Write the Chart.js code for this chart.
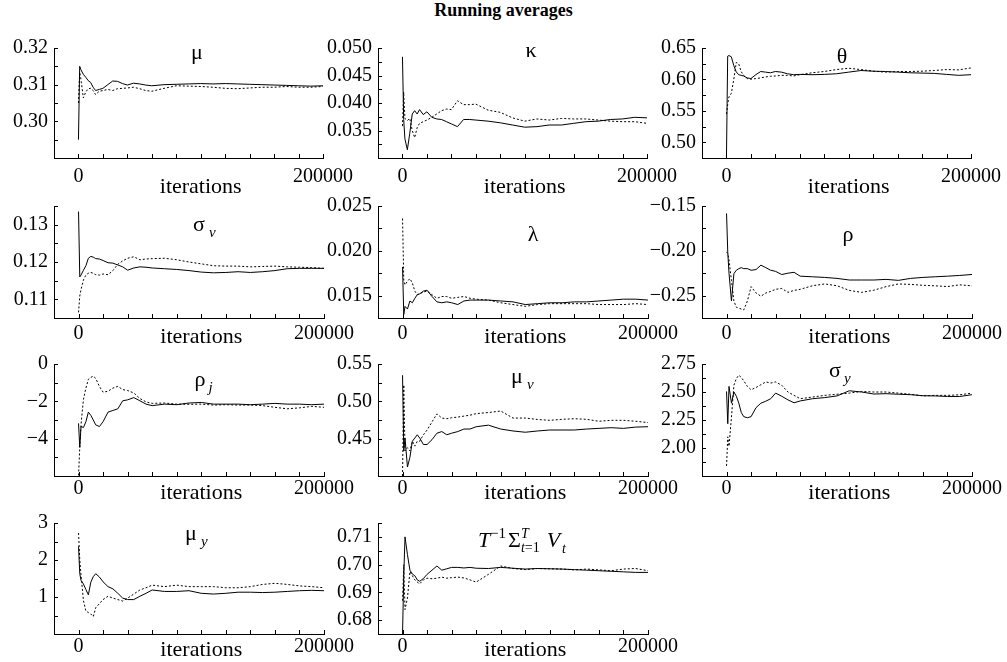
<!DOCTYPE html>
<html>
<head>
<meta charset="utf-8">
<script src="https://cdn.jsdelivr.net/npm/chart.js@4.4.1/dist/chart.umd.min.js"></script>
<style>
  body { margin: 0; background: #fff; width: 1007px; height: 662px; position: relative; overflow: hidden; font-family: "Liberation Serif", "Times New Roman", serif; }
  #title { position: absolute; left: 0; top: 0; width: 1007px; text-align: center; font-weight: bold; font-size: 18px; }
  .panel { position: absolute; }
</style>
</head>
<body>
<div id="title">Running averages</div>
<script>
// iteration grid shared by every panel
const iterations = [0, 1000, 2000, 4000, 6000, 8000, 10000, 12000, 14000, 17000, 20000, 24000, 28000, 32000, 36000, 40000, 45000, 50000, 55000, 60000, 70000, 80000, 90000, 100000, 110000, 120000, 130000, 140000, 150000, 160000, 170000, 180000, 190000, 200000];
const xTicks = [0, 20000, 40000, 60000, 80000, 100000, 120000, 140000, 160000, 180000, 200000];
const xLabels = { 0: '0', 200000: '200000' };

// running averages, solid chain / dashed chain
const muSolid = [0.2950, 0.3150, 0.3141, 0.3128, 0.3120, 0.3111, 0.3106, 0.3093, 0.3084, 0.3087, 0.3090, 0.3100, 0.3110, 0.3109, 0.3103, 0.3099, 0.3104, 0.3102, 0.3099, 0.3097, 0.3100, 0.3101, 0.3102, 0.3103, 0.3102, 0.3103, 0.3102, 0.3101, 0.3100, 0.3099, 0.3098, 0.3097, 0.3096, 0.3097];
const muDashed = [0.3050, 0.3134, 0.3115, 0.3064, 0.3080, 0.3089, 0.3090, 0.3084, 0.3073, 0.3082, 0.3084, 0.3087, 0.3084, 0.3089, 0.3090, 0.3091, 0.3093, 0.3089, 0.3084, 0.3082, 0.3090, 0.3097, 0.3096, 0.3095, 0.3093, 0.3090, 0.3089, 0.3091, 0.3093, 0.3093, 0.3095, 0.3093, 0.3093, 0.3095];

const kappaSolid = [0.0484, 0.0370, 0.0335, 0.0315, 0.0345, 0.0380, 0.0386, 0.0380, 0.0388, 0.0379, 0.0384, 0.0374, 0.0371, 0.0370, 0.0366, 0.0362, 0.0357, 0.0370, 0.0370, 0.0369, 0.0367, 0.0364, 0.0360, 0.0356, 0.0357, 0.0360, 0.0360, 0.0363, 0.0366, 0.0367, 0.0370, 0.0371, 0.0374, 0.0373];
const kappaDashed = [0.0358, 0.0420, 0.0372, 0.0368, 0.0372, 0.0350, 0.0337, 0.0355, 0.0363, 0.0366, 0.0369, 0.0374, 0.0380, 0.0386, 0.0389, 0.0388, 0.0404, 0.0397, 0.0397, 0.0398, 0.0387, 0.0383, 0.0373, 0.0367, 0.0371, 0.0369, 0.0372, 0.0371, 0.0371, 0.0369, 0.0367, 0.0366, 0.0366, 0.0363];

const thetaSolid = [0.476, 0.637, 0.638, 0.636, 0.622, 0.612, 0.6075, 0.6065, 0.6055, 0.6024, 0.6014, 0.6075, 0.6126, 0.6116, 0.6106, 0.6126, 0.6116, 0.609, 0.6075, 0.608, 0.6075, 0.608, 0.609, 0.6116, 0.6142, 0.6131, 0.6126, 0.6116, 0.6106, 0.6101, 0.6096, 0.608, 0.6065, 0.6075];
const thetaDashed = [0.545, 0.560, 0.572, 0.578, 0.600, 0.627, 0.625, 0.6126, 0.6065, 0.6014, 0.6004, 0.6014, 0.6024, 0.604, 0.605, 0.6055, 0.6065, 0.6065, 0.6055, 0.6075, 0.6106, 0.6126, 0.6157, 0.6178, 0.6157, 0.6131, 0.6116, 0.6126, 0.6126, 0.6131, 0.6142, 0.6157, 0.6152, 0.6183];

const sigmaVSolid = [0.1335, 0.1160, 0.1165, 0.1178, 0.1190, 0.1210, 0.1215, 0.1213, 0.1209, 0.1208, 0.1204, 0.1198, 0.1197, 0.1192, 0.1187, 0.1178, 0.1184, 0.1187, 0.1186, 0.1184, 0.1182, 0.1180, 0.1177, 0.1173, 0.1171, 0.1172, 0.1174, 0.1172, 0.1174, 0.1177, 0.1182, 0.1183, 0.1183, 0.1183];
const sigmaVDashed = [0.1065, 0.1109, 0.1126, 0.1152, 0.1165, 0.1170, 0.1172, 0.1170, 0.1166, 0.1165, 0.1168, 0.1166, 0.1177, 0.1194, 0.1203, 0.1210, 0.1214, 0.1206, 0.1208, 0.1209, 0.1210, 0.1206, 0.1200, 0.1195, 0.1190, 0.1189, 0.1189, 0.1187, 0.1188, 0.1189, 0.1187, 0.1186, 0.1185, 0.1183];

const lambdaSolid = [0.0182, 0.0129, 0.0138, 0.0135, 0.0144, 0.0142, 0.0147, 0.0151, 0.0152, 0.0155, 0.0156, 0.0149, 0.0143, 0.0142, 0.0143, 0.0142, 0.0140, 0.0144, 0.0145, 0.0145, 0.0145, 0.0144, 0.0143, 0.0140, 0.0141, 0.0142, 0.0142, 0.0143, 0.0143, 0.0144, 0.0145, 0.0146, 0.0146, 0.0145];
const lambdaDashed = [0.0236, 0.0167, 0.0162, 0.0166, 0.0169, 0.0164, 0.0155, 0.0151, 0.0152, 0.0154, 0.0155, 0.0151, 0.0147, 0.0149, 0.0149, 0.0147, 0.0148, 0.0149, 0.0147, 0.0146, 0.0145, 0.0142, 0.0140, 0.0138, 0.0140, 0.0141, 0.0141, 0.0141, 0.0141, 0.0140, 0.0140, 0.0140, 0.0141, 0.0140];

const rhoSolid = [-0.1583, -0.2018, -0.2250, -0.2560, -0.2254, -0.2217, -0.2199, -0.2188, -0.2199, -0.2199, -0.2217, -0.2210, -0.2160, -0.2188, -0.2217, -0.2230, -0.2265, -0.2250, -0.2240, -0.2283, -0.2290, -0.2297, -0.2308, -0.2326, -0.2326, -0.2326, -0.2319, -0.2330, -0.2308, -0.2297, -0.2290, -0.2283, -0.2275, -0.2264];
const rhoDashed = [-0.2012, -0.2030, -0.2100, -0.2330, -0.2560, -0.2630, -0.2640, -0.2650, -0.2660, -0.2560, -0.2400, -0.2470, -0.2507, -0.2471, -0.2453, -0.2430, -0.2420, -0.2464, -0.2442, -0.2430, -0.2390, -0.2370, -0.2390, -0.2442, -0.2464, -0.2440, -0.2400, -0.2370, -0.2375, -0.2385, -0.2391, -0.2399, -0.2380, -0.2391];

const rhoJSolid = [-3.18, -4.46, -3.35, -3.40, -3.09, -2.58, -2.75, -3.00, -3.26, -3.35, -3.09, -2.58, -2.49, -2.40, -1.97, -1.92, -1.80, -1.97, -2.15, -2.23, -2.15, -2.18, -2.09, -2.06, -2.15, -2.15, -2.15, -2.18, -2.15, -2.11, -2.15, -2.15, -2.18, -2.15];
const rhoJDashed = [-5.97, -4.46, -3.26, -1.89, -1.29, -0.82, -0.72, -0.65, -0.77, -1.20, -1.51, -1.46, -1.29, -1.20, -1.37, -1.42, -1.55, -1.85, -2.03, -2.11, -2.09, -2.15, -2.16, -2.15, -2.20, -2.18, -2.20, -2.20, -2.23, -2.32, -2.40, -2.35, -2.27, -2.32];

const muVSolid = [0.535, 0.4336, 0.4509, 0.412, 0.425, 0.4466, 0.4509, 0.4552, 0.4509, 0.4422, 0.4422, 0.4487, 0.4573, 0.4595, 0.4552, 0.4573, 0.4595, 0.4629, 0.4629, 0.466, 0.4681, 0.4629, 0.4603, 0.4586, 0.4603, 0.4616, 0.4616, 0.4616, 0.4629, 0.4638, 0.4647, 0.4638, 0.4655, 0.466];
const muVDashed = [0.400, 0.522, 0.4336, 0.4379, 0.4336, 0.4466, 0.440, 0.4466, 0.4466, 0.4552, 0.4616, 0.4724, 0.4832, 0.4776, 0.4767, 0.478, 0.4789, 0.4802, 0.4815, 0.4835, 0.485, 0.487, 0.4776, 0.4776, 0.4757, 0.4746, 0.4759, 0.4767, 0.4759, 0.4733, 0.4746, 0.4746, 0.4733, 0.4716];

const sigmaYSolid = [2.505, 2.217, 2.55, 2.40, 2.50, 2.462, 2.40, 2.317, 2.28, 2.27, 2.28, 2.36, 2.40, 2.418, 2.44, 2.49, 2.462, 2.43, 2.404, 2.42, 2.44, 2.45, 2.465, 2.511, 2.50, 2.482, 2.485, 2.48, 2.476, 2.467, 2.465, 2.46, 2.46, 2.476];
const sigmaYDashed = [1.84, 2.10, 2.015, 2.274, 2.56, 2.62, 2.65, 2.63, 2.60, 2.55, 2.52, 2.54, 2.565, 2.59, 2.58, 2.59, 2.56, 2.50, 2.47, 2.44, 2.455, 2.47, 2.48, 2.49, 2.505, 2.50, 2.50, 2.49, 2.48, 2.465, 2.47, 2.47, 2.475, 2.49];

const muYSolid = [2.37, 1.63, 1.45, 1.35, 1.20, 1.06, 1.40, 1.55, 1.63, 1.54, 1.41, 1.28, 1.22, 1.10, 0.97, 0.93, 0.93, 1.02, 1.10, 1.19, 1.15, 1.15, 1.17, 1.10, 1.08, 1.10, 1.13, 1.13, 1.12, 1.13, 1.15, 1.17, 1.18, 1.17];
const muYDashed = [2.73, 2.00, 1.60, 0.90, 0.62, 0.58, 0.54, 0.47, 0.71, 0.82, 0.93, 1.02, 0.97, 0.93, 0.89, 0.97, 1.08, 1.19, 1.25, 1.32, 1.28, 1.32, 1.28, 1.28, 1.28, 1.25, 1.25, 1.28, 1.34, 1.37, 1.34, 1.30, 1.28, 1.25];

const vSolid = [0.6750, 0.6960, 0.7100, 0.7036, 0.6980, 0.6966, 0.6960, 0.6945, 0.6940, 0.6950, 0.6965, 0.6980, 0.6995, 0.6980, 0.6985, 0.6990, 0.6990, 0.6988, 0.6990, 0.6987, 0.6986, 0.6990, 0.6987, 0.6984, 0.6986, 0.6985, 0.6984, 0.6982, 0.6980, 0.6978, 0.6976, 0.6974, 0.6972, 0.6972];
const vDashed = [0.6870, 0.7000, 0.6838, 0.6880, 0.6975, 0.6960, 0.6945, 0.6937, 0.6931, 0.6945, 0.6951, 0.6949, 0.6951, 0.6955, 0.6951, 0.6953, 0.6955, 0.6952, 0.6945, 0.6937, 0.6965, 0.6995, 0.6986, 0.6982, 0.6986, 0.6985, 0.6984, 0.6981, 0.6984, 0.6981, 0.6978, 0.6984, 0.6986, 0.6978];

// labelled y ticks of each panel
const muTicks = [0.30, 0.31, 0.32];
const kappaTicks = [0.035, 0.040, 0.045, 0.050];
const thetaTicks = [0.50, 0.55, 0.60, 0.65];
const sigmaVTicks = [0.11, 0.12, 0.13];
const lambdaTicks = [0.015, 0.020, 0.025];
const rhoTicks = [-0.25, -0.20, -0.15];
const rhoJTicks = [-4, -2, 0];
const muVTicks = [0.45, 0.50, 0.55];
const sigmaYTicks = [2.00, 2.25, 2.50, 2.75];
const muYTicks = [1, 2, 3];
const vTicks = [0.68, 0.69, 0.70, 0.71];

// layout of the 4x3 grid
const colLeft = [54, 378, 702];
const rowTop = [44, 202, 360, 519];
const rowH = [114, 116, 116, 115];
const tickPad = [7, 4, 1, 1];
const iterDy = [29, 19, 17, 16];
const FONT = '"Liberation Serif", "Times New Roman", serif';

const sub = (t, gap) => ({ t, it: 1, sz: 15, dy: 6, gap });

const panels = [
  { solid: muSolid, dashed: muDashed, min: 0.29, max: 0.32, minor: 0.005, major: muTicks, dec: 2, title: [{ t: 'μ' }], tx: 143, ty: 11 },
  { solid: kappaSolid, dashed: kappaDashed, min: 0.030, max: 0.050, minor: 0.0025, major: kappaTicks, dec: 3, title: [{ t: 'κ' }], tx: 153, ty: 9 },
  { solid: thetaSolid, dashed: thetaDashed, min: 0.475, max: 0.65, minor: 0.025, major: thetaTicks, dec: 2, title: [{ t: 'θ' }], tx: 140, ty: 15 },
  { solid: sigmaVSolid, dashed: sigmaVDashed, min: 0.105, max: 0.135, minor: 0.005, major: sigmaVTicks, dec: 2, title: [{ t: 'σ' }, sub('v', 4)], tx: 145, ty: 25 },
  { solid: lambdaSolid, dashed: lambdaDashed, min: 0.0125, max: 0.025, minor: 0.0025, major: lambdaTicks, dec: 3, title: [{ t: 'λ' }], tx: 155, ty: 35 },
  { solid: rhoSolid, dashed: rhoDashed, min: -0.275, max: -0.15, minor: 0.025, major: rhoTicks, dec: 2, title: [{ t: 'ρ' }], tx: 146, ty: 35 },
  { solid: rhoJSolid, dashed: rhoJDashed, min: -6, max: 0, minor: 1, major: rhoJTicks, dec: 0, title: [{ t: 'ρ' }, sub('j', 3)], tx: 146, ty: 22 },
  { solid: muVSolid, dashed: muVDashed, min: 0.40, max: 0.55, minor: 0.025, major: muVTicks, dec: 2, title: [{ t: 'μ' }, sub('v', 4)], tx: 139, ty: 19 },
  { solid: sigmaYSolid, dashed: sigmaYDashed, min: 1.75, max: 2.75, minor: 0.125, major: sigmaYTicks, dec: 2, title: [{ t: 'σ' }, sub('y', 3)], tx: 133, ty: 13 },
  { solid: muYSolid, dashed: muYDashed, min: 0, max: 3, minor: 0.5, major: muYTicks, dec: 0, title: [{ t: 'μ' }, sub('y', 4)], tx: 137, ty: 17 },
  { solid: vSolid, dashed: vDashed, min: 0.675, max: 0.715, minor: 0.005, major: vTicks, dec: 2,
    title: [{ t: 'T', it: 1 }, { t: '−1', sz: 15, dy: -9 }, { t: 'Σ', gap: 2 }, { t: 'T', it: 1, sz: 14, dy: -9, stay: 1 },
            { t: 't', it: 1, sz: 14, dy: 5 }, { t: '=1', sz: 14, dy: 5 }, { t: 'V', it: 1, gap: 7 }, { t: 't', it: 1, sz: 14, dy: 6, gap: 2 }],
    tx: 106, ty: 24 }
];

// inward tick marks, "iterations" label and the panel symbol
const decor = {
  id: 'decor',
  afterDraw(chart, args, o) {
    const ctx = chart.ctx, xs = chart.scales.x, ys = chart.scales.y, a = chart.chartArea;
    ctx.save();
    ctx.strokeStyle = '#000';
    ctx.lineWidth = 1;
    ctx.beginPath();
    xs.ticks.forEach(t => {
      const px = Math.round(xs.getPixelForValue(t.value)) + 0.5;
      ctx.moveTo(px, a.bottom); ctx.lineTo(px, a.bottom - 4);
    });
    ys.ticks.forEach(t => {
      const py = Math.round(ys.getPixelForValue(t.value)) + 0.5;
      ctx.moveTo(a.left, py); ctx.lineTo(a.left + 4, py);
    });
    ctx.stroke();

    ctx.fillStyle = '#000';
    ctx.font = '22px ' + FONT;
    ctx.textAlign = 'center';
    ctx.textBaseline = 'middle';
    ctx.fillText('iterations', xs.getPixelForValue(100000), a.bottom + o.iterDy);

    ctx.textAlign = 'left';
    ctx.textBaseline = 'alphabetic';
    const fontOf = s => (s.it ? 'italic ' : '') + (s.sz || 22) + 'px ' + FONT;
    ctx.font = fontOf(o.title[0]);
    let x = a.left + o.tx - ctx.measureText(o.title[0].t).width / 2;
    const base = a.top + o.ty;
    o.title.forEach(s => {
      ctx.font = fontOf(s);
      x += s.gap || 0;
      ctx.fillText(s.t, x, base + (s.dy || 0));
      if (!s.stay) x += ctx.measureText(s.t).width;
    });
    ctx.restore();
  }
};

const near = (a, b) => Math.abs(a - b) < 1e-9;

panels.forEach((p, i) => {
  const col = i % 3, row = Math.floor(i / 3);
  const W = 360, H = 14 + rowH[row] + 40;
  const div = document.createElement('div');
  div.className = 'panel';
  div.style.left = (colLeft[col] - 54) + 'px';
  div.style.top = (rowTop[row] - 14) + 'px';
  const cv = document.createElement('canvas');
  cv.width = W; cv.height = H;
  div.appendChild(cv);
  document.body.appendChild(div);

  const n = Math.round((p.max - p.min) / p.minor);
  const yTickVals = Array.from({ length: n + 1 }, (_, k) => p.min + k * p.minor);

  new Chart(cv, {
    type: 'line',
    data: {
      labels: iterations,
      datasets: [
        { data: iterations.map((x, k) => ({ x, y: p.solid[k] })), borderColor: '#000', borderWidth: 1, pointRadius: 0, tension: 0, fill: false },
        { data: iterations.map((x, k) => ({ x, y: p.dashed[k] })), borderColor: '#000', borderWidth: 1, borderDash: [2, 2], pointRadius: 0, tension: 0, fill: false }
      ]
    },
    options: {
      responsive: false,
      animation: false,
      events: [],
      layout: { padding: { top: 14, right: 36, left: 0, bottom: 0 } },
      plugins: {
        legend: { display: false },
        tooltip: { enabled: false },
        decor: { title: p.title, tx: p.tx, ty: p.ty, iterDy: iterDy[row] }
      },
      scales: {
        x: {
          type: 'linear',
          min: -20000,
          max: 200000,
          afterBuildTicks: s => { s.ticks = xTicks.map(v => ({ value: v })); },
          afterFit: s => { s.height = 40; },
          grid: { display: true, drawOnChartArea: false, drawTicks: false },
          border: { display: true, color: '#000', width: 1 },
          ticks: {
            autoSkip: false, maxRotation: 0, padding: tickPad[row], color: '#000',
            font: { family: FONT, size: 20 },
            callback: v => xLabels[v] || ''
          }
        },
        y: {
          type: 'linear',
          min: p.min,
          max: p.max,
          afterBuildTicks: s => { s.ticks = yTickVals.map(v => ({ value: v })); },
          afterFit: s => { s.width = 54; },
          grid: { display: true, drawOnChartArea: false, drawTicks: false },
          border: { display: true, color: '#000', width: 1 },
          ticks: {
            autoSkip: false, padding: 6, color: '#000',
            font: { family: FONT, size: 20 },
            callback: v => {
              const m = p.major.find(t => near(t, v));
              return m === undefined ? '' : m.toFixed(p.dec).replace('-', '−');
            }
          }
        }
      }
    },
    plugins: [decor]
  });
});
</script>
</body>
</html>
